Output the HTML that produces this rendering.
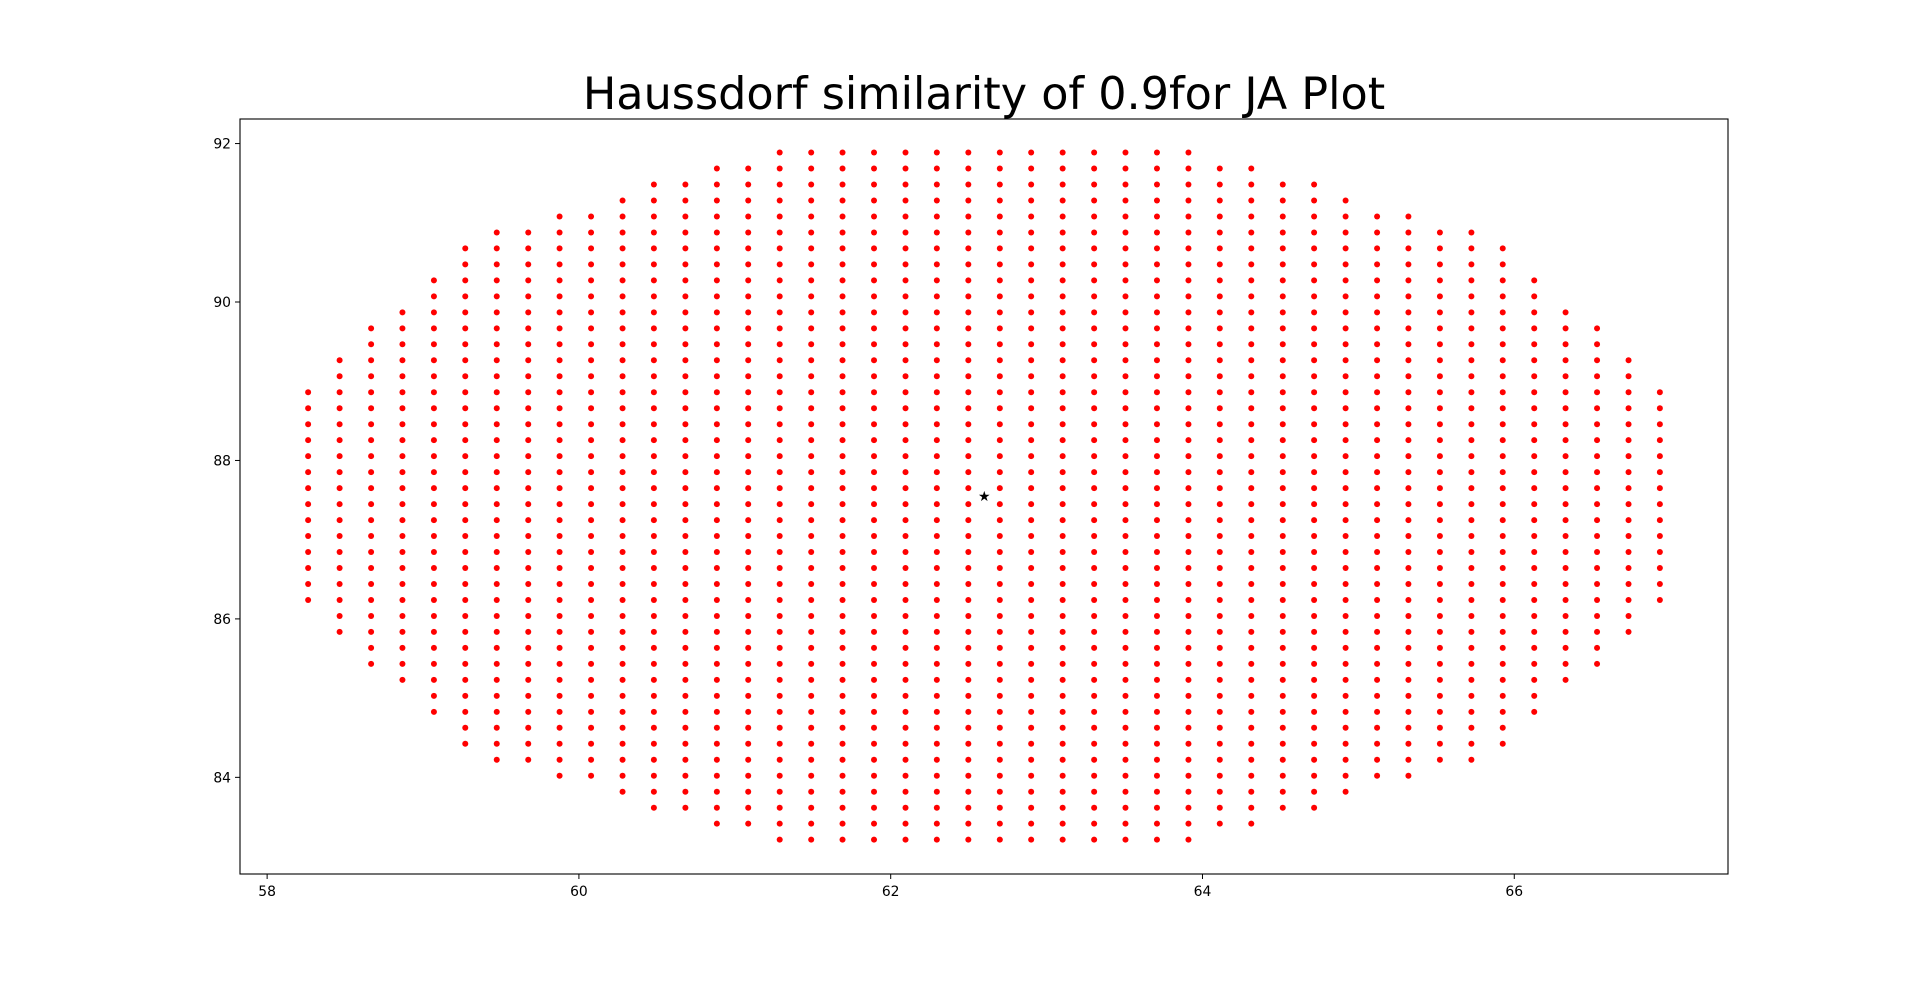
<!DOCTYPE html>
<html><head><meta charset="utf-8"><style>
html,body{margin:0;padding:0;background:#fff;}
svg{display:block;font-family:"DejaVu Sans","Liberation Sans",sans-serif;}
</style></head><body>
<svg id="chart" width="1920" height="983" viewBox="0 0 1920 983" xmlns="http://www.w3.org/2000/svg">
<rect x="0" y="0" width="1920" height="983" fill="#fff"/>
<text x="984" y="109" text-anchor="middle" font-size="44.5" fill="#000">Haussdorf similarity of 0.9for JA Plot</text>
<g id="points"></g>
<g id="axes"></g>
</svg>
<script>
const colX = [58.263,58.465,58.667,58.868,59.070,59.271,59.473,59.675,59.876,60.078,60.280,60.481,60.683,60.885,61.086,61.288,61.490,61.691,61.893,62.095,62.296,62.498,62.700,62.901,63.103,63.305,63.506,63.708,63.910,64.111,64.313,64.515,64.716,64.918,65.120,65.321,65.523,65.725,65.926,66.128,66.329,66.531,66.733,66.934];
const halfCounts = [7,9,11,12,14,16,17,17,18,18,19,20,20,21,21,22,22,22,22,22,22,22,22,22,22,22,22,22,22,21,21,20,20,19,18,18,17,17,16,14,12,11,9,7];
const centerY = 87.55;
const rowStep = 0.2017;
const starPoint = [62.6, 87.55];
const xTicks = [58,60,62,64,66];
const yTicks = [84,86,88,90,92];
const xDomain = [57.826, 67.371];
const yDomain = [82.78, 92.31];

const L=240,R=1728,T=119,B=874;
const sx=v=>L+(v-xDomain[0])/(xDomain[1]-xDomain[0])*(R-L);
const sy=v=>B-(v-yDomain[0])/(yDomain[1]-yDomain[0])*(B-T);
const NS='http://www.w3.org/2000/svg';
const pts=document.getElementById('points');
const ax=document.getElementById('axes');
function mk(tag,attrs){const e=document.createElementNS(NS,tag);for(const k in attrs)e.setAttribute(k,attrs[k]);return e;}

colX.forEach((x,i)=>{
  for(let k=0;k<halfCounts[i];k++){
    [1,-1].forEach(s=>{
      const c=mk('circle',{cx:sx(x),cy:sy(centerY+s*(k+0.5)*rowStep),r:3,fill:'#ff0000'});
      
      
      pts.appendChild(c);
    });
  }
});
const cx=sx(starPoint[0]),cy=sy(starPoint[1]);
const star=mk('text',{x:cx,y:cy+5,'text-anchor':'middle','font-size':'14',fill:'#000'});
star.textContent='★';


pts.appendChild(star);

const frame=mk('rect',{x:L,y:T,width:R-L,height:B-T,fill:'none',stroke:'#000','stroke-width':1.1});


ax.appendChild(frame);
xTicks.forEach(t=>{
  const x=sx(t);
  const l=mk('line',{x1:x,x2:x,y1:B,y2:B+5,stroke:'#000'});
  
  
  ax.appendChild(l);
  const tx=mk('text',{x:x,y:B+22,'text-anchor':'middle','font-size':'13.9',fill:'#000'});
  tx.textContent=t;
  
  
  ax.appendChild(tx);
});
yTicks.forEach(t=>{
  const y=sy(t);
  const l=mk('line',{x1:L-5,x2:L,y1:y,y2:y,stroke:'#000'});
  
  
  ax.appendChild(l);
  const tx=mk('text',{x:L-9,y:y+5,'text-anchor':'end','font-size':'13.9',fill:'#000'});
  tx.textContent=t;
  
  
  ax.appendChild(tx);
});
</script>
</body></html>
